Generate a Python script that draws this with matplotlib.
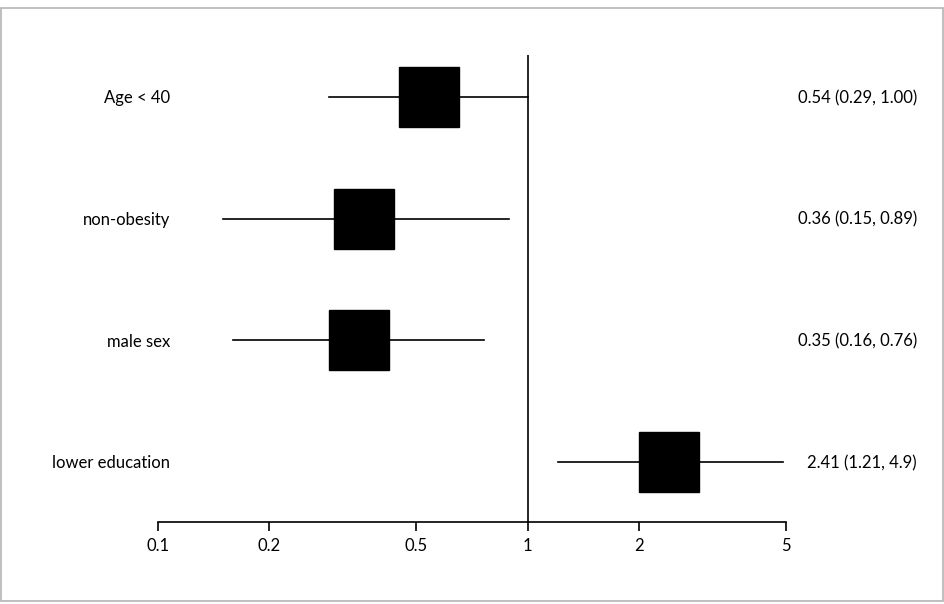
import matplotlib
matplotlib.use("Agg")
import matplotlib.pyplot as plt
from matplotlib.patches import Rectangle
from matplotlib.transforms import blended_transform_factory

labels = ["Age < 40", "non-obesity", "male sex", "lower education"]
est = [0.54, 0.36, 0.35, 2.41]
lo = [0.29, 0.15, 0.16, 1.21]
hi = [1.00, 0.89, 0.76, 4.9]
ci_text = ["0.54 (0.29, 1.00)", "0.36 (0.15, 0.89)", "0.35 (0.16, 0.76)", "2.41 (1.21, 4.9)"]
ticks = [0.1, 0.2, 0.5, 1, 2, 5]
tick_labels = ["0.1", "0.2", "0.5", "1", "2", "5"]

plt.rcParams['font.family'] = ['Lato', 'DejaVu Sans']

fig = plt.figure(figsize=(9.44, 6.04), dpi=100)
fig.patches.append(Rectangle((0.5/944, 1 - 601/604), 942.5/944, 593/604,
                             transform=fig.transFigure, fill=False,
                             edgecolor='#b4b4b4', linewidth=1.2))
ax = fig.add_axes([158/944, 1 - 522/604, 628/944, 467/604])
ax.set_xscale('log')
ax.set_xlim(0.1, 5)
ax.set_ylim(0.507, 4.345)

ys = [4, 3, 2, 1]
for y, e, l, h in zip(ys, est, lo, hi):
    ax.plot([l, h], [y, y], color='black', lw=1.2, zorder=2)
    ax.plot([e], [y], marker='s', markersize=42.5, color='black', zorder=3)

ax.axvline(1, color='black', lw=1.2, zorder=1)

tr = blended_transform_factory(ax.transAxes, ax.transData)
for y, lab, txt in zip(ys, labels, ci_text):
    ax.text(0.019, y - 0.01, lab, transform=tr, ha='right', va='center', fontsize=12)
    ax.text(1.2086, y - 0.01, txt, transform=tr, ha='right', va='center', fontsize=12)

for s in ['top', 'right', 'left']:
    ax.spines[s].set_visible(False)
ax.spines['bottom'].set_linewidth(1.2)
ax.set_yticks([])
ax.set_xticks(ticks)
ax.set_xticklabels(tick_labels)
ax.minorticks_off()
ax.tick_params(axis='x', direction='out', length=6.5, width=1.2, labelsize=12, pad=5)

fig.savefig("out.png", dpi=100)
